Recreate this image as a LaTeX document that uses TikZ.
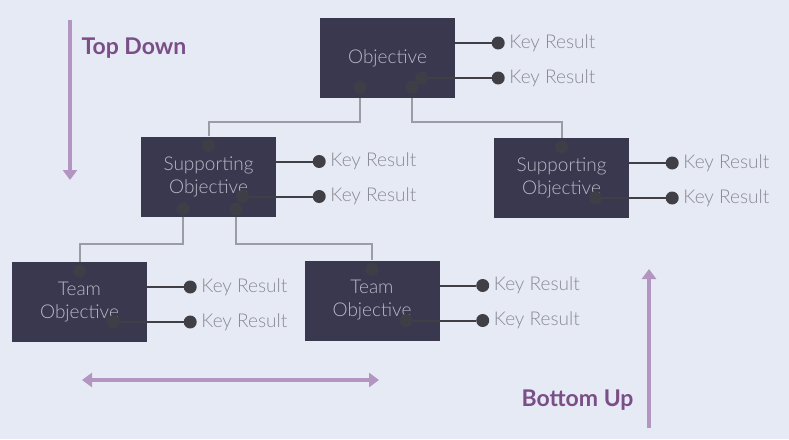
\documentclass[tikz,border=0pt]{standalone}
\usepackage{fontspec}
\setmainfont{Lato}[UprightFont={* Light},BoldFont={* Bold}]
\usetikzlibrary{arrows.meta}

\definecolor{bgc}{HTML}{E6EAF4}
\definecolor{boxc}{HTML}{3A384F}
\definecolor{boxtext}{HTML}{B9B9C6}
\definecolor{krtext}{HTML}{8A8A92}
\definecolor{dotc}{HTML}{3F3F45}
\definecolor{treec}{HTML}{9C9CA4}
\definecolor{flowc}{HTML}{B295C1}
\definecolor{dirc}{HTML}{7A4E86}

\tikzset{
  obj/.style={fill=boxc, text=boxtext, minimum width=135pt, minimum height=80pt,
    align=center, font=\fontsize{19}{24}\selectfont},
  dotnode/.style={circle, fill=dotc, inner sep=0pt, minimum size=13pt},
  innerdot/.style={dotnode, fill=dotc!80!boxc},
  krdot/.style={dotnode, label={[text=krtext, font=\fontsize{19}{20}\selectfont,
    label distance=1pt]right:Key Result}},
  tree/.style={treec, line width=2pt},
  krline/.style={dotc, line width=2pt},
  flow/.style={flowc, line width=3.5pt, -{Triangle[width=14pt,length=10pt]}},
  dirlabel/.style={text=dirc, font=\fontsize{23}{26}\selectfont\bfseries}
}

\begin{document}
\begin{tikzpicture}[x=1pt,y=-1pt]
    \fill[bgc] (0,0) rectangle (789,439);
    \useasboundingbox (0,0) rectangle (789,439);

    % objective boxes
    \node[obj] (obj) at (387.5,58) {Objective};
    \node[obj] (supA) at (208.5,176.5) {Supporting\\[-1pt]Objective};
    \node[obj] (supB) at (561.5,178) {Supporting\\[-1pt]Objective};
    \node[obj] (teamA) at (79.5,302) {Team\\[-1pt]Objective};
    \node[obj] (teamB) at (372,300.5) {Team\\[-1pt]Objective};

    % key results of every box
    \foreach \b in {obj,supA,supB,teamA,teamB} {
        \node[innerdot] (\b-k) at ([shift={(34,20)}]\b.center) {};
        \node[krdot] (\b-kr1) at ([shift={(43,-15)}]\b.east) {};
        \node[krdot] (\b-kr2) at (\b-kr1 |- \b-k) {};
        \draw[krline] (\b-kr1 -| \b.east) -- (\b-kr1);
        \draw[krline] (\b-k) -- (\b-kr2);
    }

    % dots where the tree lines meet the boxes
    \node[innerdot] (obj-b1) at ([shift={(-27.5,29)}]obj.center) {};
    \node[innerdot] (obj-b2) at ([shift={(24.5,29)}]obj.center) {};
    \node[innerdot] (supA-b1) at ([shift={(-25.5,32.5)}]supA.center) {};
    \node[innerdot] (supA-b2) at ([shift={(27.5,32.5)}]supA.center) {};
    \foreach \b in {supA,supB,teamA,teamB}
        \node[innerdot] (\b-t) at ([shift={(0,-31)}]\b.center) {};

    % tree lines
    \draw[tree] (obj-b1 |- obj.south) -- ++(0,24) -| (supA-t |- supA.north);
    \draw[tree] (obj-b2 |- obj.south) -- ++(0,24) -| (supB-t |- supB.north);
    \draw[tree] (supA-b1 |- supA.south) -- ++(0,27) -| (teamA-t |- teamA.north);
    \draw[tree] (supA-b2 |- supA.south) -- ++(0,27) -| (teamB-t |- teamB.north);

    % directions
    \coordinate (TD1) at (70,20);
    \coordinate (TD2) at (70,180);
    \draw[flow] (TD1) -- (TD2);
    \node[dirlabel, anchor=west] (TD) at (78,48) {Top Down};
    \coordinate (H1) at (82,380);
    \coordinate (H2) at (379,380);
    \draw[flow, {Triangle[width=14pt,length=10pt]}-{Triangle[width=14pt,length=10pt]}] (H1) -- (H2);
    \coordinate (BU1) at (649,428);
    \coordinate (BU2) at (649,269);
    \draw[flow] (BU1) -- (BU2);
    \node[dirlabel, anchor=east] (BU) at (637,400) {Bottom Up};
\end{tikzpicture}
\end{document}
